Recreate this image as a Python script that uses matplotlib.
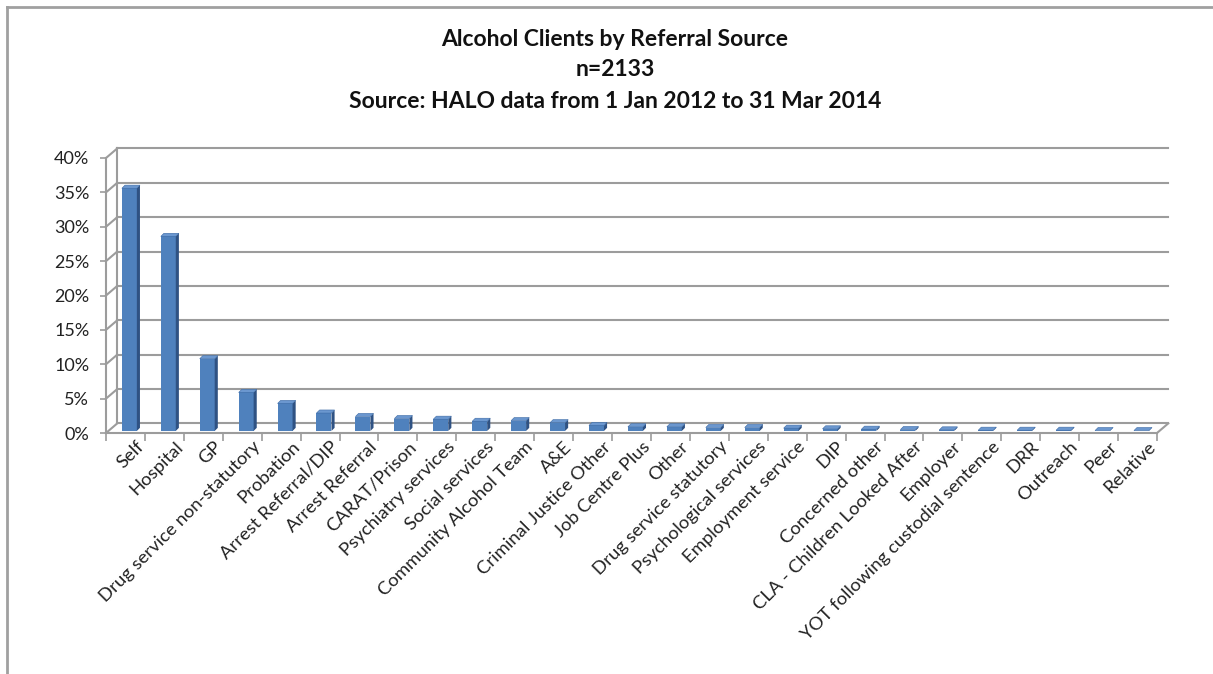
import matplotlib
matplotlib.use("Agg")
import matplotlib.pyplot as plt
from matplotlib.patches import Polygon
from matplotlib.lines import Line2D
from matplotlib.ticker import FuncFormatter, FixedLocator
import matplotlib.transforms as mtransforms

# data (share of clients, %)
sources = ["Self", "Hospital", "GP", "Drug service non-statutory", "Probation",
           "Arrest Referral/DIP", "Arrest Referral", "CARAT/Prison",
           "Psychiatry services", "Social services", "Community Alcohol Team",
           "A&E", "Criminal Justice Other", "Job Centre Plus", "Other",
           "Drug service statutory", "Psychological services",
           "Employment service", "DIP", "Concerned other",
           "CLA - Children Looked After", "Employer",
           "YOT following custodial sentence", "DRR", "Outreach", "Peer",
           "Relative"]
share = [35.3, 28.3, 10.5, 5.6, 4.0, 2.6, 2.1, 1.8, 1.7, 1.4, 1.5, 1.2,
         0.8, 0.6, 0.6, 0.5, 0.5, 0.4, 0.3, 0.25, 0.2, 0.15, 0.1, 0.1,
         0.1, 0.05, 0.05]
yticks = [0, 5, 10, 15, 20, 25, 30, 35, 40]

FONT = ["Lato", "DejaVu Sans"]
plt.rcParams["font.family"] = FONT

W, H = 1213, 674
fig = plt.figure(figsize=(W / 100, H / 100), dpi=100)
fig.patch.set_facecolor("white")

# front plane of the 3D plot area in pixels
left_px, right_px, bot_px, top_px = 106, 1157, 433, 158
ax = fig.add_axes([left_px / W, 1 - bot_px / H,
                   (right_px - left_px) / W, (bot_px - top_px) / H])
n = len(sources)
ax.set_xlim(0, n)
ax.set_ylim(0, 40)
ax.set_facecolor("none")

grid_c = "#9c9c9c"
dx, dy = 0.29, 1.4          # depth offset of back wall (data units)

for s in ["top", "right"]:
    ax.spines[s].set_visible(False)
for s in ["left", "bottom"]:
    ax.spines[s].set_color(grid_c)
    ax.spines[s].set_linewidth(1.5)

# back wall gridlines + left wall diagonals
for g in yticks:
    ax.plot([dx, n + dx], [g + dy, g + dy], color=grid_c, lw=1.5,
            clip_on=False, zorder=1)
    ax.plot([0, dx], [g, g + dy], color=grid_c, lw=1.5, clip_on=False, zorder=1)
ax.plot([dx, dx], [dy, 40 + dy], color=grid_c, lw=1.5, clip_on=False, zorder=1)
ax.plot([n, n + dx], [0, dy], color=grid_c, lw=1.5, clip_on=False, zorder=1)

# bars with fake 3D faces
bw = 0.385
fx, fy = 0.1, 0.3
sx, sy = 0.08, 0.45
front_c, side_c, top_c = "#4f81bd", "#2f5283", "#6b97cf"
for i, v in enumerate(share):
    x0 = i + (1 - bw) / 2 + fx
    x1 = x0 + bw
    ax.bar(x0, v, width=bw, bottom=fy, align="edge", color=front_c,
           zorder=3, linewidth=0)
    ax.add_patch(Polygon([(x1, fy), (x1 + sx, fy + sy), (x1 + sx, fy + v + sy),
                          (x1, fy + v)], closed=True, fc=side_c, lw=0, zorder=3))
    ax.add_patch(Polygon([(x0, fy + v), (x1, fy + v), (x1 + sx, fy + v + sy),
                          (x0 + sx, fy + v + sy)], closed=True, fc=top_c,
                         ec="#3c6aa5", lw=0.4, zorder=4))

# y axis
ax.set_yticks(yticks)
ax.yaxis.set_major_formatter(FuncFormatter(lambda v, p: f"{v:.0f}%"))
ax.tick_params(axis="y", direction="out", length=4, width=1.2, color=grid_c,
               labelsize=13, pad=8, labelcolor="#222222")

# x axis: ticks at boundaries, labels at centres
ax.xaxis.set_major_locator(FixedLocator(range(n + 1)))
ax.xaxis.set_major_formatter(FuncFormatter(lambda v, p: ""))
ax.xaxis.set_minor_locator(FixedLocator([i + 0.5 for i in range(n)]))
ax.set_xticklabels(sources, minor=True)
ax.tick_params(axis="x", which="major", direction="out", length=6, width=1.2,
               color=grid_c)
ax.tick_params(axis="x", which="minor", length=0, pad=4, labelsize=13.3,
               labelcolor="#222222")
shift = mtransforms.ScaledTranslation(10 / 100, 0, fig.dpi_scale_trans)
for lab in ax.get_xticklabels(minor=True):
    lab.set_rotation(45)
    lab.set_ha("right")
    lab.set_va("top")
    lab.set_rotation_mode("anchor")
    lab.set_transform(lab.get_transform() + shift)

# titles
tx = 615 / W
fig.text(tx, 1 - 40 / H, "Alcohol Clients by Referral Source", ha="center",
         va="center", fontsize=16.5, fontweight="bold", color="#111111")
fig.text(tx, 1 - 70 / H, "n=2133", ha="center", va="center", fontsize=16.5,
         fontweight="bold", color="#111111")
fig.text(tx, 1 - 101 / H, "Source: HALO data from 1 Jan 2012 to 31 Mar 2014",
         ha="center", va="center", fontsize=16.5, fontweight="bold",
         color="#111111")

# chart border (top and left visible)
fig.add_artist(Line2D([7 / W, 1], [1 - 7 / H, 1 - 7 / H], color="#a0a0a0",
                      lw=2, transform=fig.transFigure))
fig.add_artist(Line2D([7 / W, 7 / W], [0, 1 - 7 / H], color="#a0a0a0",
                      lw=2, transform=fig.transFigure))

fig.savefig("out.png", dpi=100)
